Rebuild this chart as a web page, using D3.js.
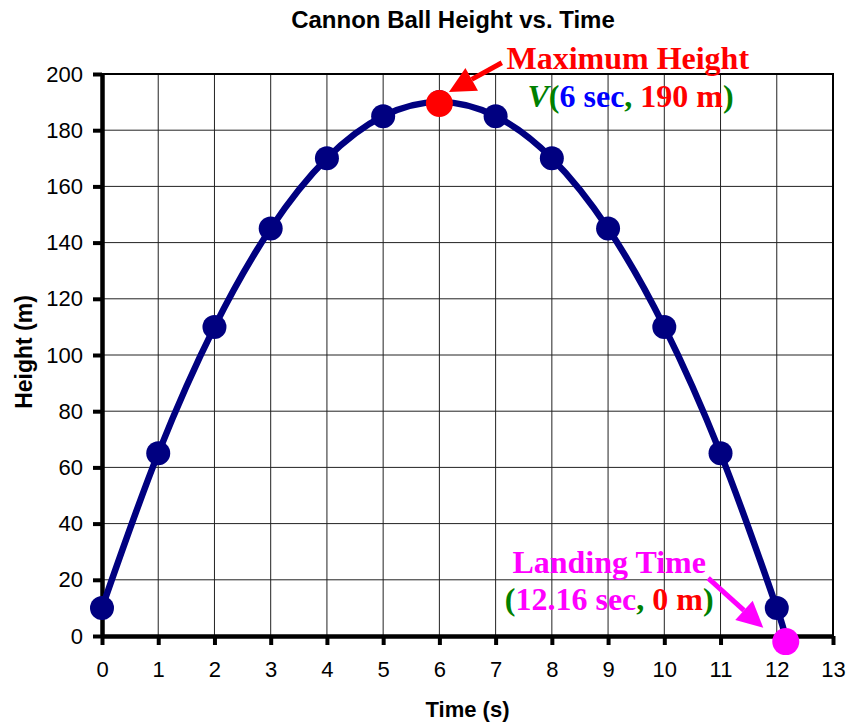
<!DOCTYPE html>
<html>
<head>
<meta charset="utf-8">
<script src="https://cdn.jsdelivr.net/npm/d3@7"></script>
<style>
body{margin:0;background:#fff;}
.axis text{font-family:"Liberation Sans",Arial,sans-serif;font-size:22px;fill:#000;}
.axis path,.axis line{stroke:#000;}
.note{font-family:"Liberation Serif","Times New Roman",serif;font-weight:bold;font-size:32px;}
</style>
</head>
<body>
<script>
//wrap in local scope
(function(){

//chart data
var times = [0,1,2,3,4,5,6,7,8,9,10,11,12];
var heights = [10,65,110,145,170,185,190,185,170,145,110,65,10];
var landingPoint = [12.16,-2];   //pink dot
var vertexPoint = [6,189.5];     //red dot
var xTickValues = [0,1,2,3,4,5,6,7,8,9,10,11,12,13];
var yTickValues = [0,20,40,60,80,100,120,140,160,180,200];

//frame dimensions
var width = 849, height = 725;
var margin = {top:74, right:16, bottom:89, left:102};

var svg = d3.select("body").append("svg")
    .attr("width", width)
    .attr("height", height);

var x = d3.scaleLinear().domain([0,13]).range([margin.left, width - margin.right]);
var y = d3.scaleLinear().domain([0,200]).range([height - margin.bottom, margin.top]);

//gridlines
svg.selectAll(".vgrid").data(xTickValues.slice(1))
    .enter().append("line")
    .attr("x1", function(d){ return x(d); })
    .attr("x2", function(d){ return x(d); })
    .attr("y1", y(0)).attr("y2", y(200))
    .attr("stroke", "#222").attr("stroke-width", 1);
svg.selectAll(".hgrid").data(yTickValues.slice(1))
    .enter().append("line")
    .attr("x1", x(0)).attr("x2", x(13))
    .attr("y1", function(d){ return y(d); })
    .attr("y2", function(d){ return y(d); })
    .attr("stroke", "#222").attr("stroke-width", 1);

//top and right border
svg.append("path")
    .attr("d", "M" + x(0) + "," + y(200) + "H" + x(13) + "V" + y(0))
    .attr("fill", "none").attr("stroke", "#000").attr("stroke-width", 2);

//axes
var xAxis = svg.append("g").attr("class", "axis")
    .attr("transform", "translate(0," + y(0) + ")")
    .call(d3.axisBottom(x).tickValues(xTickValues).tickSize(9).tickPadding(16).tickSizeOuter(0));
var yAxis = svg.append("g").attr("class", "axis")
    .attr("transform", "translate(" + x(0) + ",0)")
    .call(d3.axisLeft(y).tickValues(yTickValues).tickSize(9).tickPadding(10).tickSizeOuter(0));
svg.selectAll(".axis .domain").attr("stroke-width", 4.5);
svg.selectAll(".axis .tick line").attr("stroke-width", 4);

//smoothed line through all points and the landing point
var linePts = times.map(function(t, i){ return [t, heights[i]]; });
linePts.push(landingPoint);
var line = d3.line()
    .x(function(d){ return x(d[0]); })
    .y(function(d){ return y(d[1]); })
    .curve(d3.curveCardinal.tension(0));
svg.append("path")
    .datum(linePts)
    .attr("d", line)
    .attr("fill", "none")
    .attr("stroke", "#000080")
    .attr("stroke-width", 6.5);

svg.selectAll(".pt").data(times)
    .enter().append("circle")
    .attr("cx", function(d){ return x(d); })
    .attr("cy", function(d, i){ return y(heights[i]); })
    .attr("r", 12)
    .attr("fill", "#000080");

svg.append("circle")
    .attr("cx", x(vertexPoint[0])).attr("cy", y(vertexPoint[1]))
    .attr("r", 13.5).attr("fill", "#ff0000");
svg.append("circle")
    .attr("cx", x(landingPoint[0])).attr("cy", y(landingPoint[1]))
    .attr("r", 13.5).attr("fill", "#ff00ff");

//arrow from (x1,y1) to tip (x2,y2), in data units
function arrow(from, to, color){
    var x1 = x(from[0]), y1 = y(from[1]), x2 = x(to[0]), y2 = y(to[1]);
    var ang = Math.atan2(y2 - y1, x2 - x1);
    var len = 26, half = 13;
    var bx = x2 - len * Math.cos(ang), by = y2 - len * Math.sin(ang);
    var px = -Math.sin(ang) * half, py = Math.cos(ang) * half;
    svg.append("line")
        .attr("x1", x1).attr("y1", y1).attr("x2", bx).attr("y2", by)
        .attr("stroke", color).attr("stroke-width", 5);
    svg.append("path")
        .attr("d", "M" + x2 + "," + y2 + "L" + (bx + px) + "," + (by + py) + "L" + (bx - px) + "," + (by - py) + "Z")
        .attr("fill", color);
}
arrow([7.11,204], [6.17,193.6], "#ff0000");
arrow([10.78,20.6], [11.76,2.9], "#ff00ff");

//annotation texts
svg.append("text").attr("class", "note")
    .attr("x", x(9.35)).attr("y", y(201.8))
    .attr("text-anchor", "middle").attr("fill", "#ff0000")
    .text("Maximum Height");

var vText = svg.append("text").attr("class", "note")
    .attr("x", x(9.4)).attr("y", y(188.3))
    .attr("text-anchor", "middle");
vText.append("tspan").attr("fill", "#008000").attr("font-style", "italic").text("V");
vText.append("tspan").attr("fill", "#008000").text("(");
vText.append("tspan").attr("fill", "#0000ff").text("6 sec");
vText.append("tspan").attr("fill", "#008000").text(", ");
vText.append("tspan").attr("fill", "#ff0000").text("190 m");
vText.append("tspan").attr("fill", "#008000").text(")");

svg.append("text").attr("class", "note")
    .attr("x", x(9.02)).attr("y", y(22.4))
    .attr("text-anchor", "middle").attr("fill", "#ff00ff")
    .text("Landing Time");

var lText = svg.append("text").attr("class", "note")
    .attr("x", x(9.02)).attr("y", y(9.3))
    .attr("text-anchor", "middle");
lText.append("tspan").attr("fill", "#008000").text("(");
lText.append("tspan").attr("fill", "#ff00ff").text("12.16 sec");
lText.append("tspan").attr("fill", "#008000").text(", ");
lText.append("tspan").attr("fill", "#ff0000").text("0 m");
lText.append("tspan").attr("fill", "#008000").text(")");

//titles
svg.append("text")
    .attr("x", 453).attr("y", 28)
    .attr("text-anchor", "middle")
    .style("font-family", "'Liberation Sans',Arial,sans-serif")
    .style("font-weight", "bold").style("font-size", "24px")
    .text("Cannon Ball Height vs. Time");
svg.append("text")
    .attr("x", (x(0) + x(13)) / 2).attr("y", 717)
    .attr("text-anchor", "middle")
    .style("font-family", "'Liberation Sans',Arial,sans-serif")
    .style("font-weight", "bold").style("font-size", "22px")
    .text("Time (s)");
svg.append("text")
    .attr("transform", "translate(32," + 352 + ") rotate(-90)")
    .attr("text-anchor", "middle")
    .style("font-family", "'Liberation Sans',Arial,sans-serif")
    .style("font-weight", "bold").style("font-size", "23px")
    .text("Height (m)");

})();
</script>
</body>
</html>
